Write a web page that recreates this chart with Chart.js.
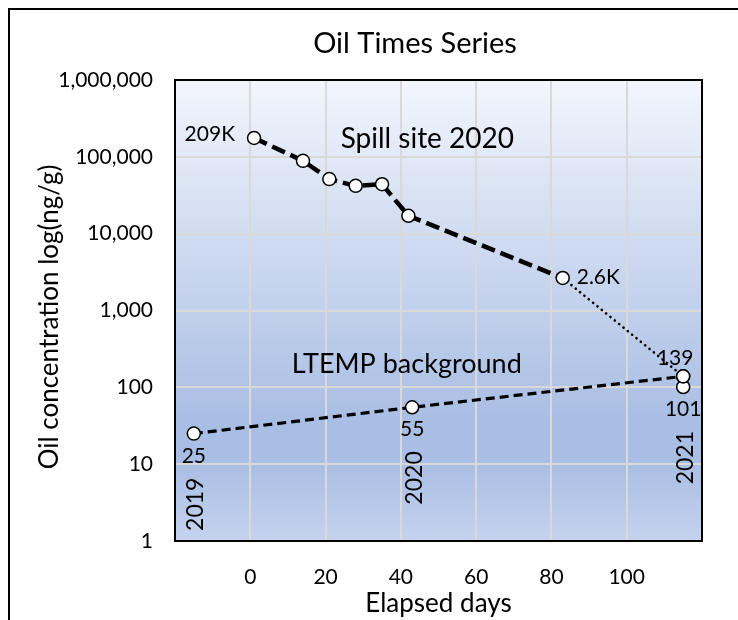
<!DOCTYPE html>
<html><head><meta charset="utf-8">
<script src="https://cdn.jsdelivr.net/npm/chart.js@4.4.1/dist/chart.umd.min.js"></script>
<style>html,body{margin:0;padding:0;background:#fff;} canvas{display:block;}</style>
</head><body>
<canvas id="c" width="738" height="620"></canvas>
<script>
// ---- data ----
const spillDays   = [1, 14, 21, 28, 35, 42, 83, 115];
const spillValues = [176000, 88700, 51300, 41900, 44000, 17100, 2650, 139];
const spillLabels = ['209K', '', '', '', '', '', '2.6K', '139'];
const ltempDays   = [-15, 43, 115];
const ltempValues = [25, 55, 139];
const ltempLabels = ['25', '55', ''];
const ltempYears  = ['2019', '2020', ''];
const sampleDays   = [115];
const sampleValues = [101];
const sampleLabels = ['101'];
const sampleYears  = ['2021'];
const xTickLabels = [0, 20, 40, 60, 80, 100];
const yTickValues = [1, 10, 100, 1000, 10000, 100000, 1000000];
const titleText = 'Oil Times Series';
const xTitle = 'Elapsed days';
const yTitle = 'Oil concentration log(ng/g)';
const noteTexts = ['Spill site 2020', 'LTEMP background'];

const FONT = 'Lato';
const toPts = (xs, ys) => xs.map((x, i) => ({x: x, y: ys[i]}));

const bgPlugin = {
  id: 'bg',
  beforeDraw(chart) {
    const {ctx, chartArea: a} = chart;
    ctx.save();
    ctx.fillStyle = '#fff';
    ctx.fillRect(0, 0, chart.width, chart.height);
    // outer frame (left and top edges visible)
    ctx.strokeStyle = '#000';
    ctx.lineWidth = 2;
    ctx.beginPath();
    ctx.moveTo(9, chart.height + 2);
    ctx.lineTo(9, 9);
    ctx.lineTo(chart.width + 2, 9);
    ctx.stroke();
    const g = ctx.createLinearGradient(0, a.top, 0, a.bottom);
    g.addColorStop(0, '#f2f5fc');
    g.addColorStop(0.74, '#a9bee4');
    g.addColorStop(0.83, '#a9bee4');
    g.addColorStop(1, '#c5d3ee');
    ctx.fillStyle = g;
    ctx.fillRect(a.left, a.top, a.right - a.left, a.bottom - a.top);
    // title
    ctx.fillStyle = '#000';
    ctx.font = '29px ' + FONT;
    ctx.textAlign = 'center';
    ctx.textBaseline = 'alphabetic';
    ctx.fillText(titleText, 415, 53);
    // y axis title
    ctx.save();
    ctx.translate(50, 317);
    ctx.rotate(-Math.PI / 2);
    ctx.font = '26px ' + FONT;
    ctx.textAlign = 'center';
    ctx.textBaseline = 'middle';
    ctx.fillText(yTitle, 0, 0);
    ctx.restore();
    ctx.restore();
  },
  beforeDatasetsDraw(chart) {
    const {ctx, chartArea: a, scales} = chart;
    ctx.save();
    ctx.strokeStyle = '#000';
    ctx.lineWidth = 2;
    ctx.strokeRect(a.left, a.top, a.right - a.left, a.bottom - a.top);
    // free-text notes
    ctx.fillStyle = '#000';
    ctx.font = '28px ' + FONT;
    ctx.textAlign = 'left';
    ctx.textBaseline = 'alphabetic';
    ctx.fillText(noteTexts[0], scales.x.getPixelForValue(24), scales.y.getPixelForValue(130000));
    ctx.font = '27px ' + FONT;
    ctx.fillText(noteTexts[1], scales.x.getPixelForValue(11), scales.y.getPixelForValue(153));
    ctx.restore();
  }
};

const labelPlugin = {
  id: 'ptlabels',
  afterDatasetsDraw(chart) {
    const ctx = chart.ctx;
    ctx.save();
    ctx.fillStyle = '#000';
    chart.data.datasets.forEach((ds, di) => {
      const meta = chart.getDatasetMeta(di);
      meta.data.forEach((pt, i) => {
        const txt = ds.pointLabels && ds.pointLabels[i];
        const side = ds.labelSides && ds.labelSides[i];
        if (txt) {
          ctx.font = '21px ' + FONT;
          ctx.textBaseline = 'alphabetic';
          let x = pt.x, y = pt.y;
          if (side === 'left') { ctx.textAlign = 'right'; x -= 19; y += 3; }
          else if (side === 'right') { ctx.textAlign = 'left'; x += 14; y += 6; }
          else if (side === 'above') { ctx.textAlign = 'center'; x -= 8; y -= 11; }
          else { ctx.textAlign = 'center'; y += 29; }
          ctx.fillText(txt, x, y);
        }
        const yr = ds.yearLabels && ds.yearLabels[i];
        if (yr) {
          ctx.save();
          ctx.translate(pt.x + 2, pt.y + 44);
          ctx.rotate(-Math.PI / 2);
          ctx.font = '23px ' + FONT;
          ctx.textAlign = 'right';
          ctx.textBaseline = 'middle';
          ctx.fillText(yr, 0, 0);
          ctx.restore();
        }
      });
    });
    ctx.restore();
  }
};

const pointStyle = {
  pointRadius: 6.5,
  pointHoverRadius: 6.5,
  pointBackgroundColor: '#fff',
  pointBorderColor: '#000',
  pointBorderWidth: 1.5
};

new Chart(document.getElementById('c'), {
  type: 'line',
  data: {
    datasets: [
      Object.assign({
        label: 'Spill site 2020',
        data: toPts(spillDays, spillValues),
        borderColor: '#000',
        borderWidth: 4.5,
        borderDash: [14, 6],
        borderCapStyle: 'butt',
        fill: false,
        tension: 0,
        pointLabels: spillLabels,
        labelSides: ['left', '', '', '', '', '', 'right', 'above'],
        segment: {
          borderDash: c => c.p0DataIndex === 6 ? [0.1, 5.5] : undefined,
          borderWidth: c => c.p0DataIndex === 6 ? 2.6 : undefined,
          borderCapStyle: c => c.p0DataIndex === 6 ? 'round' : undefined
        }
      }, pointStyle),
      Object.assign({
        label: 'LTEMP background',
        data: toPts(ltempDays, ltempValues),
        borderColor: '#000',
        borderWidth: 3.2,
        borderDash: [9, 5],
        borderCapStyle: 'butt',
        fill: false,
        tension: 0,
        pointLabels: ltempLabels,
        yearLabels: ltempYears,
        labelSides: ['below', 'below', 'below']
      }, pointStyle),
      Object.assign({
        label: 'LTEMP 2021',
        data: toPts(sampleDays, sampleValues),
        showLine: false,
        pointLabels: sampleLabels,
        yearLabels: sampleYears,
        labelSides: ['below']
      }, pointStyle)
    ]
  },
  options: {
    responsive: false,
    animation: false,
    devicePixelRatio: 1,
    events: [],
    layout: { padding: { top: 80, right: 36, left: 0, bottom: 0 } },
    plugins: { legend: { display: false }, tooltip: { enabled: false }, title: { display: false } },
    scales: {
      x: {
        type: 'linear',
        min: -20, max: 120,
        afterFit: s => { s.height = 79; },
        afterBuildTicks: s => { s.ticks = [-20, 0, 20, 40, 60, 80, 100, 120].map(v => ({value: v})); },
        ticks: {
          padding: 24,
          color: '#000',
          font: { family: FONT, size: 21 },
          maxRotation: 0,
          autoSkip: false,
          callback: v => xTickLabels.includes(v) ? String(v) : ''
        },
        grid: { color: '#d9d9d9', lineWidth: 2, drawTicks: false },
        border: { display: false },
        title: { display: true, text: xTitle, color: '#000', font: { family: FONT, size: 26 }, padding: { top: 0, bottom: 1 } }
      },
      y: {
        type: 'logarithmic',
        min: 1, max: 1000000,
        afterFit: s => { s.width = 175; },
        afterBuildTicks: s => { s.ticks = yTickValues.map(v => ({value: v})); },
        ticks: {
          padding: 22,
          color: '#000',
          font: { family: FONT, size: 21 },
          autoSkip: false,
          callback: v => Number(v).toLocaleString('en-US')
        },
        grid: { color: '#d9d9d9', lineWidth: 2, drawTicks: false },
        border: { display: false },
        title: { display: false }
      }
    }
  },
  plugins: [bgPlugin, labelPlugin]
});
</script>
</body></html>
